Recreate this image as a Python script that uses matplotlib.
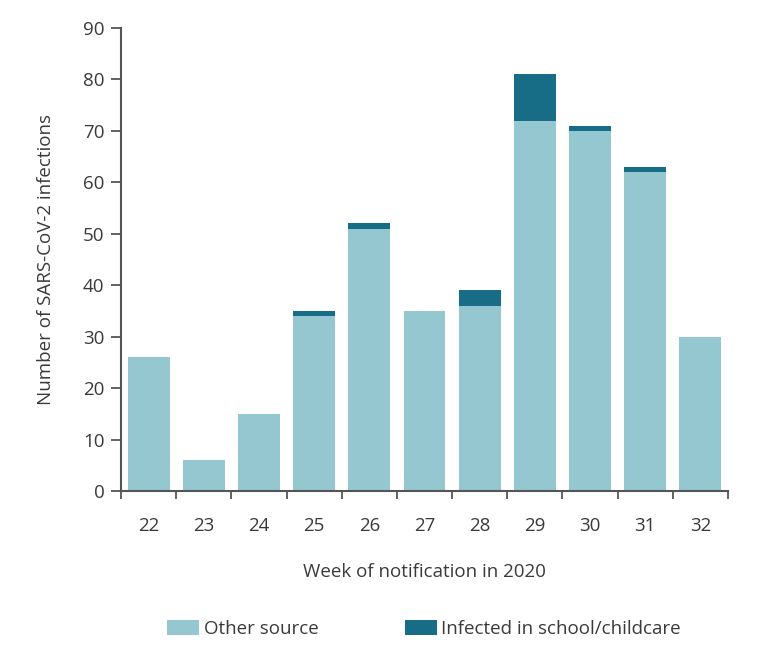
import matplotlib.pyplot as plt
import numpy as np

plt.rcParams['font.family'] = ['Open Sans', 'DejaVu Sans']

# weeks and counts
weeks = ['22', '23', '24', '25', '26', '27', '28', '29', '30', '31', '32']
other_source = [26, 6, 15, 34, 51, 35, 36, 72, 70, 62, 30]
school_childcare = [0, 0, 0, 1, 1, 0, 3, 9, 1, 1, 0]

light = '#94c7d0'
dark = '#186d86'
txt = '#3a3a3a'
axc = '#555555'
fs = 13.5

fig = plt.figure(figsize=(7.73, 6.58), dpi=100)
ax = fig.add_axes([121/773, 1-491/658, (728-121)/773, (491-28)/658])

x = np.arange(len(weeks))
ax.bar(x, other_source, width=0.76, color=light, label='Other source')
ax.bar(x, school_childcare, width=0.76, bottom=other_source, color=dark,
       label='Infected in school/childcare')

ax.set_xlim(-0.5, len(weeks) - 0.5)
ax.set_ylim(0, 90)
ax.set_yticks(range(0, 91, 10))

# ticks between the bars, labels in the middle
ax.set_xticks(np.arange(-0.5, len(weeks)), labels=[])
ax.set_xticks(x, labels=weeks, minor=True)
ax.tick_params(axis='x', which='major', length=6, width=1.3, color=axc)
ax.tick_params(axis='x', which='minor', length=0, pad=19, labelsize=fs, labelcolor=txt)
ax.tick_params(axis='y', length=7, width=1.3, color=axc, pad=5, labelsize=fs, labelcolor=txt)

for s in ['top', 'right']:
    ax.spines[s].set_visible(False)
for s in ['left', 'bottom']:
    ax.spines[s].set_color(axc)
    ax.spines[s].set_linewidth(1.5)

ax.set_ylabel('Number of SARS-CoV-2 infections', fontsize=fs, color=txt, labelpad=20)
ax.set_xlabel('Week of notification in 2020', fontsize=fs, color=txt, labelpad=20)

leg = fig.legend(loc='center', bbox_to_anchor=(424/773, 1-629/658), ncol=2, frameon=False,
                 fontsize=fs, handlelength=1.7, handleheight=0.8, handletextpad=0.25,
                 columnspacing=4.6)
for t in leg.get_texts():
    t.set_color(txt)

fig.savefig('out.png', dpi=100)
